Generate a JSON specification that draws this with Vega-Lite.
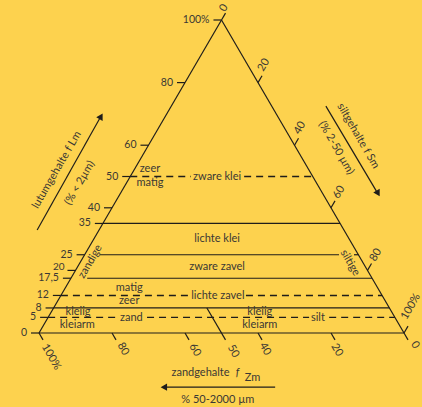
{
  "$schema": "https://vega.github.io/schema/vega-lite/v6.json",
  "width": 365,
  "height": 313,
  "autosize": {"type": "none"},
  "padding": {"left": 39, "top": 20, "right": 18, "bottom": 74},
  "background": "#fdd24e",
  "config": {"view": {"stroke": null}, "text": {"font": "Lato", "fontSize": 11, "color": "#3b3834"}},
  "datasets": {
    "solid": [
      {"x": 0, "y": 0, "x2": 100, "y2": 0},
      {"x": 0, "y": 0, "x2": 50, "y2": 100},
      {"x": 50, "y": 100, "x2": 100, "y2": 0},
      {"x": -2.2, "y": 0, "x2": 0, "y2": 0},
      {"x": 0.3, "y": 5, "x2": 2.5, "y2": 5},
      {"x": 1.8, "y": 8, "x2": 4, "y2": 8},
      {"x": 3.8, "y": 12, "x2": 6, "y2": 12},
      {"x": 6.55, "y": 17.5, "x2": 8.75, "y2": 17.5},
      {"x": 7.8, "y": 20, "x2": 10, "y2": 20},
      {"x": 10.3, "y": 25, "x2": 12.5, "y2": 25},
      {"x": 15.3, "y": 35, "x2": 17.5, "y2": 35},
      {"x": 17.8, "y": 40, "x2": 20, "y2": 40},
      {"x": 22.8, "y": 50, "x2": 25, "y2": 50},
      {"x": 27.8, "y": 60, "x2": 30, "y2": 60},
      {"x": 37.8, "y": 80, "x2": 40, "y2": 80},
      {"x": 47.8, "y": 100, "x2": 50, "y2": 100},
      {"x": 0, "y": 0, "x2": 1.1, "y2": -2.2},
      {"x": 20, "y": 0, "x2": 21.1, "y2": -2.2},
      {"x": 40, "y": 0, "x2": 41.1, "y2": -2.2},
      {"x": 60, "y": 0, "x2": 61.1, "y2": -2.2},
      {"x": 80, "y": 0, "x2": 81.1, "y2": -2.2},
      {"x": 100, "y": 0, "x2": 101.1, "y2": -2.2},
      {"x": 46, "y": 8, "x2": 51.1, "y2": -2.2},
      {"x": 50, "y": 100, "x2": 51.1, "y2": 102.2},
      {"x": 60, "y": 80, "x2": 61.1, "y2": 82.2},
      {"x": 70, "y": 60, "x2": 71.1, "y2": 62.2},
      {"x": 80, "y": 40, "x2": 81.1, "y2": 42.2},
      {"x": 90, "y": 20, "x2": 91.1, "y2": 22.2},
      {"x": 100, "y": 0, "x2": 101.1, "y2": 2.2},
      {"x": 17.5, "y": 35, "x2": 82.5, "y2": 35},
      {"x": 16.7, "y": 25, "x2": 82.2, "y2": 25},
      {"x": 86.3, "y": 25, "x2": 87.5, "y2": 25},
      {"x": 13.2, "y": 17.5, "x2": 91.25, "y2": 17.5},
      {"x": 4, "y": 8, "x2": 96, "y2": 8},
      {"x": -0.5, "y": 32.9, "x2": 16.7, "y2": 68.7},
      {"x": 78.6, "y": 72.5, "x2": 92.6, "y2": 45.0},
      {"x": 64.7, "y": -17.3, "x2": 34.2, "y2": -17.3}
    ],
    "dashed": [
      {"x": 25, "y": 50, "x2": 41.6, "y2": 50},
      {"x": 56.2, "y": 50, "x2": 75, "y2": 50},
      {"x": 6, "y": 12, "x2": 41.4, "y2": 12},
      {"x": 56.7, "y": 12, "x2": 94, "y2": 12},
      {"x": 2.5, "y": 5, "x2": 21.4, "y2": 5},
      {"x": 29.6, "y": 5, "x2": 74, "y2": 5},
      {"x": 79.5, "y": 5, "x2": 97.5, "y2": 5}
    ],
    "lefttick": [
      {"x": 0, "y": 0, "t": "0"},
      {"x": 2.5, "y": 5, "t": "5"},
      {"x": 4, "y": 8, "t": "8"},
      {"x": 6, "y": 12, "t": "12"},
      {"x": 8.75, "y": 17.5, "t": "17,5"},
      {"x": 12.5, "y": 25, "t": "25"},
      {"x": 17.5, "y": 35, "t": "35"},
      {"x": 20, "y": 40, "t": "40"},
      {"x": 25, "y": 50, "t": "50"},
      {"x": 30, "y": 60, "t": "60"},
      {"x": 40, "y": 80, "t": "80"},
      {"x": 50, "y": 100, "t": "100%"}
    ],
    "bottomlab": [
      {"x": 3.3, "y": -7.7, "t": "100%"},
      {"x": 23.0, "y": -5.1, "t": "80"},
      {"x": 42.7, "y": -5.4, "t": "60"},
      {"x": 53.2, "y": -5.8, "t": "50"},
      {"x": 61.9, "y": -5.1, "t": "40"},
      {"x": 81.6, "y": -5.4, "t": "20"},
      {"x": 103.0, "y": -3.8, "t": "0"},
      {"x": 85.2, "y": 22.4, "t": "siltige"},
      {"x": 87.4, "y": 62.9, "t": "siltgehalte f Sm"},
      {"x": 81.4, "y": 59.1, "t": "(% 2-50 µm)"}
    ],
    "rightlab": [
      {"x": 50.7, "y": 103.8, "t": "0"},
      {"x": 61.6, "y": 85.6, "t": "20"},
      {"x": 71.5, "y": 65.5, "t": "40"},
      {"x": 82.2, "y": 45.0, "t": "60"},
      {"x": 92.3, "y": 24.9, "t": "80"},
      {"x": 101.9, "y": 8.4, "t": "100%"},
      {"x": 14.1, "y": 22.8, "t": "zandige"},
      {"x": 4.9, "y": 52.1, "t": "lutumgehalte f Lm"},
      {"x": 11.2, "y": 47.9, "t": "(% < 2µm)"}
    ],
    "classlab": [
      {"x": 48.8, "y": 50.0, "t": "zware klei"},
      {"x": 30.4, "y": 52.3, "t": "zeer"},
      {"x": 30.4, "y": 48.0, "t": "matig"},
      {"x": 48.8, "y": 30.0, "t": "lichte klei"},
      {"x": 48.8, "y": 21.1, "t": "zware zavel"},
      {"x": 24.7, "y": 14.4, "t": "matig"},
      {"x": 24.7, "y": 10.3, "t": "zeer"},
      {"x": 49.0, "y": 11.8, "t": "lichte zavel"},
      {"x": 10.7, "y": 6.6, "t": "kleiig"},
      {"x": 10.5, "y": 2.5, "t": "kleiarm"},
      {"x": 25.3, "y": 4.8, "t": "zand"},
      {"x": 60.5, "y": 6.6, "t": "kleiig"},
      {"x": 60.5, "y": 2.5, "t": "kleiarm"},
      {"x": 76.4, "y": 4.8, "t": "silt"},
      {"x": 49.0, "y": -21.4, "t": "% 50-2000 µm"}
    ]
  },
  "layer": [
    {
      "data": {"name": "solid"},
      "mark": {"type": "rule", "color": "#1f1d1a", "strokeWidth": 1.2},
      "encoding": {
        "x": {"field": "x", "type": "quantitative", "scale": {"domain": [0, 100], "nice": false, "zero": false}, "axis": null},
        "y": {"field": "y", "type": "quantitative", "scale": {"domain": [0, 100], "nice": false, "zero": false}, "axis": null},
        "x2": {"field": "x2"},
        "y2": {"field": "y2"}
      }
    },
    {
      "data": {"name": "dashed"},
      "mark": {"type": "rule", "color": "#1f1d1a", "strokeWidth": 1.4, "strokeDash": [7, 5]},
      "encoding": {
        "x": {"field": "x", "type": "quantitative"},
        "y": {"field": "y", "type": "quantitative"},
        "x2": {"field": "x2"},
        "y2": {"field": "y2"}
      }
    },
    {
      "data": {"name": "lefttick"},
      "mark": {"type": "text", "align": "right", "baseline": "middle", "dx": -12, "fontSize": 10.5},
      "encoding": {
        "x": {"field": "x", "type": "quantitative"},
        "y": {"field": "y", "type": "quantitative"},
        "text": {"field": "t"}
      }
    },
    {
      "data": {"values": [{"x": 10, "y": 20, "t": "20"}]},
      "mark": {"type": "text", "align": "right", "baseline": "middle", "dx": -11, "dy": -3, "fontSize": 10},
      "encoding": {
        "x": {"field": "x", "type": "quantitative"},
        "y": {"field": "y", "type": "quantitative"},
        "text": {"field": "t"}
      }
    },
    {
      "data": {"name": "bottomlab"},
      "mark": {"type": "text", "align": "center", "baseline": "middle", "angle": 60},
      "encoding": {
        "x": {"field": "x", "type": "quantitative"},
        "y": {"field": "y", "type": "quantitative"},
        "text": {"field": "t"}
      }
    },
    {
      "data": {"name": "rightlab"},
      "mark": {"type": "text", "align": "center", "baseline": "middle", "angle": -60},
      "encoding": {
        "x": {"field": "x", "type": "quantitative"},
        "y": {"field": "y", "type": "quantitative"},
        "text": {"field": "t"}
      }
    },
    {
      "data": {"name": "classlab"},
      "mark": {"type": "text", "align": "center", "baseline": "middle"},
      "encoding": {
        "x": {"field": "x", "type": "quantitative"},
        "y": {"field": "y", "type": "quantitative"},
        "text": {"field": "t"}
      }
    },
    {
      "data": {"values": [{"x": 36.3, "y": -12.8, "t": "zandgehalte"}]},
      "mark": {"type": "text", "align": "left", "baseline": "middle"},
      "encoding": {
        "x": {"field": "x", "type": "quantitative"},
        "y": {"field": "y", "type": "quantitative"},
        "text": {"field": "t"}
      }
    },
    {
      "data": {"values": [{"x": 53.9, "y": -12.8, "t": "f"}]},
      "mark": {"type": "text", "align": "left", "baseline": "middle", "fontStyle": "italic"},
      "encoding": {
        "x": {"field": "x", "type": "quantitative"},
        "y": {"field": "y", "type": "quantitative"},
        "text": {"field": "t"}
      }
    },
    {
      "data": {"values": [{"x": 56.4, "y": -14.4, "t": "Zm"}]},
      "mark": {"type": "text", "align": "left", "baseline": "middle"},
      "encoding": {
        "x": {"field": "x", "type": "quantitative"},
        "y": {"field": "y", "type": "quantitative"},
        "text": {"field": "t"}
      }
    },
    {
      "data": {"values": [{"x": 17.0, "y": 69.2}]},
      "mark": {"type": "point", "shape": "triangle-up", "filled": true, "size": 55, "angle": 30, "color": "#1f1d1a", "opacity": 1},
      "encoding": {
        "x": {"field": "x", "type": "quantitative"},
        "y": {"field": "y", "type": "quantitative"}
      }
    },
    {
      "data": {"values": [{"x": 92.9, "y": 44.6}]},
      "mark": {"type": "point", "shape": "triangle-down", "filled": true, "size": 55, "angle": -30, "color": "#1f1d1a", "opacity": 1},
      "encoding": {
        "x": {"field": "x", "type": "quantitative"},
        "y": {"field": "y", "type": "quantitative"}
      }
    },
    {
      "data": {"values": [{"x": 34.2, "y": -17.3}]},
      "mark": {"type": "point", "shape": "triangle-left", "filled": true, "size": 55, "color": "#1f1d1a", "opacity": 1},
      "encoding": {
        "x": {"field": "x", "type": "quantitative"},
        "y": {"field": "y", "type": "quantitative"}
      }
    }
  ]
}
